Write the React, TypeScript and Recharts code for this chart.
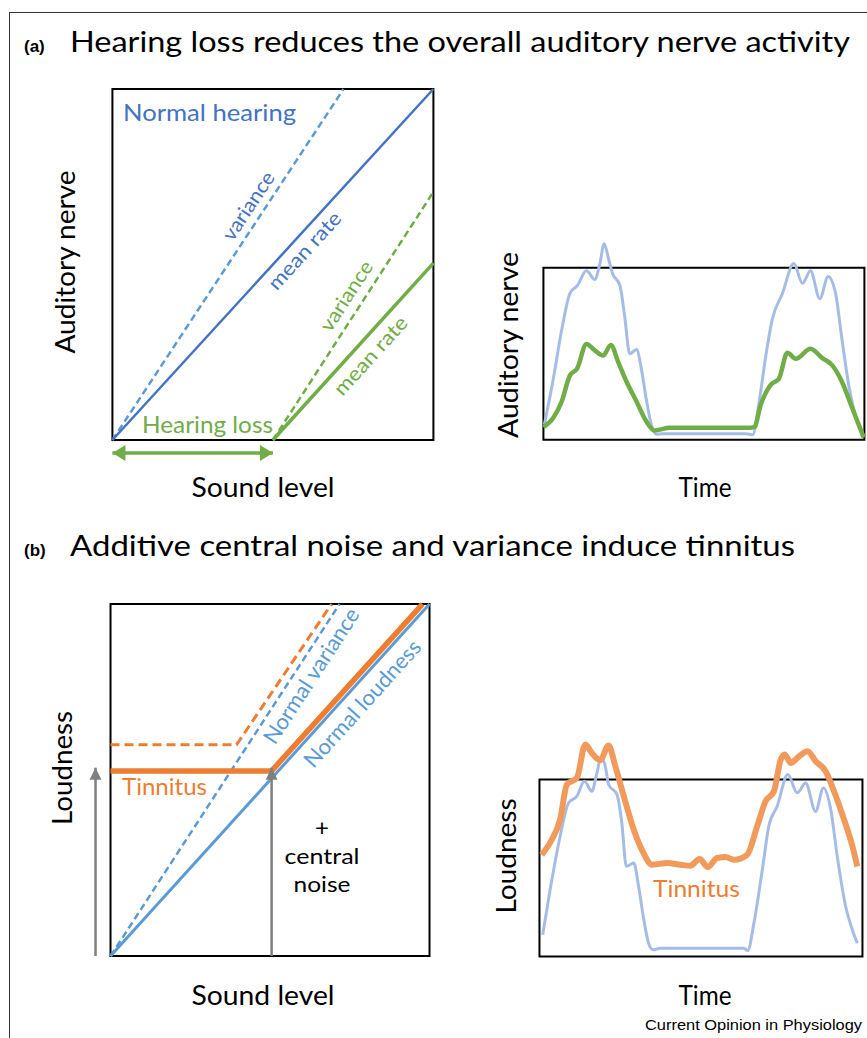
import React from "react";
import { LineChart, Line, XAxis, YAxis, ReferenceArea } from "recharts";

// (a) left: rate vs sound level (box is 0..100 on both axes)
const aNormalVariance = [{ x: 0, y: 0 }, { x: 72, y: 100 }];
const aNormalMean = [{ x: 0, y: 0 }, { x: 100, y: 100 }];
const aLossVariance = [{ x: 50, y: 0 }, { x: 100, y: 70.7 }];
const aLossMean = [{ x: 50, y: 0 }, { x: 100, y: 50.4 }];
const aLossRange = [{ x: 0, y: -3.7 }, { x: 50, y: -3.7 }];

// (a) right: nerve activity over time
const aNerveNormal = [
  { x: 0.3, y: 9 }, { x: 3.1, y: 35.7 }, { x: 5.7, y: 64 }, { x: 8.3, y: 85.3 }, { x: 10.5, y: 89.5 },
  { x: 13.4, y: 98.3 }, { x: 16, y: 93.3 }, { x: 17.6, y: 102.5 }, { x: 18.9, y: 114 }, { x: 20.2, y: 106 },
  { x: 21.5, y: 96.8 }, { x: 23.8, y: 90 }, { x: 25.3, y: 72 }, { x: 26.9, y: 50 }, { x: 29, y: 52.5 },
  { x: 30.5, y: 41.4 }, { x: 32, y: 24 }, { x: 33.6, y: 9 }, { x: 35.2, y: 3.2 }, { x: 37, y: 3.6 },
  { x: 63, y: 3.6 }, { x: 65.2, y: 2.9 }, { x: 67.2, y: 22 }, { x: 69.3, y: 49 }, { x: 71.3, y: 70 },
  { x: 74.5, y: 85.3 }, { x: 78, y: 102.5 }, { x: 80.7, y: 91 }, { x: 83.2, y: 98.3 }, { x: 86.1, y: 82 },
  { x: 88.7, y: 95 }, { x: 91, y: 85.3 }, { x: 93, y: 58.6 }, { x: 95.1, y: 32 }, { x: 97.7, y: 11 },
  { x: 99.8, y: 2.3 },
];
const aNerveLoss = [
  { x: 0, y: 7.4 }, { x: 3.1, y: 12.8 }, { x: 5.7, y: 22.3 }, { x: 8.3, y: 37.6 }, { x: 10.5, y: 41.4 },
  { x: 13.4, y: 55.7 }, { x: 16, y: 52 }, { x: 18.6, y: 49 }, { x: 21, y: 55.2 }, { x: 23.3, y: 45.2 },
  { x: 25.9, y: 33.8 }, { x: 29, y: 22.3 }, { x: 32, y: 10.9 }, { x: 34.6, y: 5.5 }, { x: 39.3, y: 7 },
  { x: 64.1, y: 7 }, { x: 65.7, y: 7.4 }, { x: 67.7, y: 20.4 }, { x: 70.8, y: 31.9 }, { x: 73.4, y: 35.7 },
  { x: 76, y: 50.6 }, { x: 78.6, y: 47.1 }, { x: 83.2, y: 52.9 }, { x: 86.9, y: 47.5 }, { x: 90, y: 43.3 },
  { x: 93, y: 33.8 }, { x: 96.2, y: 18.5 }, { x: 99.8, y: 1.3 },
];

// (b) left: loudness vs sound level
const bNormalVariance = [{ x: 0, y: 0 }, { x: 71.8, y: 100 }];
const bNormalLoudness = [{ x: 0, y: 0 }, { x: 100, y: 100 }];
const bTinnitusVariance = [{ x: 0, y: 60 }, { x: 39.5, y: 60 }, { x: 69.3, y: 100 }];
const bTinnitus = [{ x: 0, y: 52.6 }, { x: 50.5, y: 52.6 }, { x: 97.8, y: 100 }];
const bNoiseLeft = [{ x: -4.7, y: 0 }, { x: -4.7, y: 53.5 }];
const bNoiseMid = [{ x: 50.5, y: 0 }, { x: 50.5, y: 53.5 }];

// (b) right: loudness over time
const bLoudNormal = [
  { x: 1, y: 12.3 }, { x: 3.3, y: 37.7 }, { x: 6.4, y: 68 }, { x: 9, y: 86.8 }, { x: 11.6, y: 90.6 },
  { x: 13.9, y: 99 }, { x: 16.2, y: 93.4 }, { x: 17.8, y: 103.8 }, { x: 19.1, y: 112.8 }, { x: 20.4, y: 107.5 },
  { x: 21.4, y: 97.2 }, { x: 24, y: 91.5 }, { x: 25.5, y: 75.5 }, { x: 26.9, y: 51 }, { x: 29.2, y: 52.8 },
  { x: 30.7, y: 39.6 }, { x: 32.3, y: 20.8 }, { x: 33.8, y: 7.5 }, { x: 35.2, y: 3.8 }, { x: 37.4, y: 4.7 },
  { x: 63.3, y: 4.7 }, { x: 64.5, y: 3.4 }, { x: 66.4, y: 18.9 }, { x: 69, y: 49 }, { x: 71, y: 73.6 },
  { x: 73.6, y: 84.9 }, { x: 76.9, y: 102.8 }, { x: 79.8, y: 92.5 }, { x: 82.4, y: 98 }, { x: 85.5, y: 82 },
  { x: 87.9, y: 95.3 }, { x: 90.2, y: 83 }, { x: 92.2, y: 56.6 }, { x: 94.8, y: 28.3 }, { x: 96.9, y: 15 },
  { x: 98.4, y: 7.5 },
];
const bLoudTinnitus = [
  { x: 0.7, y: 57.5 }, { x: 3.8, y: 66 }, { x: 6.4, y: 77.4 }, { x: 8.5, y: 97.2 }, { x: 11.6, y: 101 },
  { x: 14.2, y: 119.8 }, { x: 16.2, y: 115 }, { x: 18.8, y: 111 }, { x: 21.4, y: 119.2 }, { x: 23.5, y: 107.5 },
  { x: 26.1, y: 90.6 }, { x: 29.2, y: 71.7 }, { x: 31.7, y: 60.4 }, { x: 34.9, y: 51.9 }, { x: 39.5, y: 52.8 },
  { x: 43.6, y: 51.9 }, { x: 46.7, y: 51.3 }, { x: 49.6, y: 55.1 }, { x: 52.1, y: 50.6 }, { x: 55, y: 55.7 },
  { x: 57.6, y: 56.2 }, { x: 60.2, y: 54.7 }, { x: 64.3, y: 57.5 }, { x: 67.4, y: 73.6 }, { x: 70, y: 87.7 },
  { x: 72.6, y: 93.4 }, { x: 74.7, y: 111.3 }, { x: 75.9, y: 114.2 }, { x: 77.8, y: 109.4 }, { x: 80.4, y: 113.2 },
  { x: 83, y: 116 }, { x: 85.5, y: 110.4 }, { x: 88.6, y: 104.7 }, { x: 91.2, y: 93.4 }, { x: 94.3, y: 77.4 },
  { x: 96.9, y: 62.3 }, { x: 98.4, y: 50.9 },
];

const BLUE = "#4472C4";
const LIGHTBLUE = "#5B9BD5";
const GREEN = "#70AD47";
const ORANGE = "#ED7D31";
const GRAY = "#7F7F7F";
const FONT = "Lato, 'Open Sans', sans-serif";

// arrowhead drawn on a line point; dirs[index] tells which way it points
const arrowDot = (color: string, dirs: (string | null)[], len = 12, half = 7) => (p: any) => {
  const d = dirs[p.index];
  const { cx, cy } = p;
  if (!d || cx == null || cy == null) return <g key={`n-${p.index}`} />;
  let pts = "";
  if (d === "left") pts = `${cx},${cy} ${cx + len},${cy - half} ${cx + len},${cy + half}`;
  if (d === "right") pts = `${cx},${cy} ${cx - len},${cy - half} ${cx - len},${cy + half}`;
  if (d === "up") pts = `${cx},${cy} ${cx - half},${cy + len} ${cx + half},${cy + len}`;
  return <polygon key={`a-${p.index}`} points={pts} fill={color} />;
};

type Box = { left: number; top: number; right: number; bottom: number };

const Panel = ({ box, xDom, yDom, children }: { box: Box; xDom: [number, number]; yDom: [number, number]; children: React.ReactNode }) => {
  const sx = (box.right - box.left) / 100;
  const sy = (box.bottom - box.top) / 100;
  const left = box.left + xDom[0] * sx;
  const width = (xDom[1] - xDom[0]) * sx;
  const top = box.top - (yDom[1] - 100) * sy;
  const height = (yDom[1] - yDom[0]) * sy;
  return (
    <div style={{ position: "absolute", left, top }}>
      <LineChart width={width} height={height} margin={{ top: 0, right: 0, bottom: 0, left: 0 }}>
        <XAxis type="number" dataKey="x" domain={xDom} hide allowDataOverflow />
        <YAxis type="number" dataKey="y" domain={yDom} hide allowDataOverflow />
        <ReferenceArea x1={0} x2={100} y1={0} y2={100} fill="none" stroke="#000" strokeWidth={2} ifOverflow="visible" />
        {children}
      </LineChart>
    </div>
  );
};

const lineBase = { dataKey: "y", dot: false, activeDot: false, isAnimationActive: false } as const;

const Rot = ({ cx, cy, angle, fill, size, len, children }: any) => (
  <text
    transform={`translate(${cx},${cy}) rotate(${-angle})`}
    textAnchor="middle"
    dominantBaseline="middle"
    fill={fill}
    fontSize={size}
    textLength={len}
    lengthAdjust="spacingAndGlyphs"
  >
    {children}
  </text>
);

const YLab = ({ bx, cy, len, children }: any) => (
  <text transform={`translate(${bx},${cy}) rotate(-90)`} textAnchor="middle" fontSize={26} textLength={len} lengthAdjust="spacingAndGlyphs" fill="#000">
    {children}
  </text>
);

export default function App() {
  return (
    <div style={{ position: "absolute", left: 0, top: 0, width: 867, height: 1038, background: "#fff", overflow: "hidden" }}>
      {/* outer frame */}
      <div style={{ position: "absolute", left: 9, top: 12, width: 880, height: 1100, borderLeft: "1.5px solid #333", borderTop: "1.5px solid #333" }} />

      <Panel box={{ left: 112, top: 89, right: 433, bottom: 440 }} xDom={[-2, 102]} yDom={[-7, 102]}>
        <Line {...lineBase} data={aNormalVariance} type="linear" stroke={LIGHTBLUE} strokeWidth={2.5} strokeDasharray="7 4" />
        <Line {...lineBase} data={aNormalMean} type="linear" stroke={BLUE} strokeWidth={2.5} />
        <Line {...lineBase} data={aLossVariance} type="linear" stroke={GREEN} strokeWidth={2.5} strokeDasharray="7 4" />
        <Line {...lineBase} data={aLossMean} type="linear" stroke={GREEN} strokeWidth={3.5} />
        <Line {...lineBase} data={aLossRange} type="linear" stroke={GREEN} strokeWidth={3.5} dot={arrowDot(GREEN, ["left", "right"], 13, 8)} />
      </Panel>

      <Panel box={{ left: 543, top: 268, right: 864, bottom: 440 }} xDom={[-2, 102]} yDom={[-3, 122]}>
        <Line {...lineBase} data={aNerveNormal} type="monotone" stroke="#A5BDE6" strokeWidth={3} />
        <Line {...lineBase} data={aNerveLoss} type="monotone" stroke={GREEN} strokeWidth={4.5} />
      </Panel>

      <Panel box={{ left: 111, top: 604, right: 430, bottom: 956 }} xDom={[-8, 102]} yDom={[-2, 102]}>
        <Line {...lineBase} data={bNormalVariance} type="linear" stroke={LIGHTBLUE} strokeWidth={2.5} strokeDasharray="7 4" />
        <Line {...lineBase} data={bNormalLoudness} type="linear" stroke={LIGHTBLUE} strokeWidth={3} />
        <Line {...lineBase} data={bTinnitusVariance} type="linear" stroke={ORANGE} strokeWidth={3} strokeDasharray="9 5" />
        <Line {...lineBase} data={bTinnitus} type="linear" stroke={ORANGE} strokeWidth={5.5} />
        <Line {...lineBase} data={bNoiseLeft} type="linear" stroke={GRAY} strokeWidth={2.5} dot={arrowDot(GRAY, [null, "up"], 12, 6)} />
        <Line {...lineBase} data={bNoiseMid} type="linear" stroke={GRAY} strokeWidth={2.5} dot={arrowDot(GRAY, [null, "up"], 12, 6)} />
      </Panel>

      <Panel box={{ left: 539, top: 780, right: 862, bottom: 957 }} xDom={[-2, 102]} yDom={[-3, 128]}>
        <Line {...lineBase} data={bLoudNormal} type="monotone" stroke="#A5BDE6" strokeWidth={3} />
        <Line {...lineBase} data={bLoudTinnitus} type="monotone" stroke="#F19A5C" strokeWidth={6} />
      </Panel>

      <svg width={867} height={1038} style={{ position: "absolute", left: 0, top: 0, pointerEvents: "none" }} fontFamily={FONT}>
        {/* titles */}
        <text x={24} y={52} fontFamily="'Liberation Sans', Arial, sans-serif" fontWeight="bold" fontSize={17}>(a)</text>
        <text x={70} y={52} fontSize={29} textLength={780} lengthAdjust="spacingAndGlyphs">Hearing loss reduces the overall auditory nerve activity</text>
        <text x={24} y={556} fontFamily="'Liberation Sans', Arial, sans-serif" fontWeight="bold" fontSize={17}>(b)</text>
        <text x={70} y={556} fontSize={29} textLength={725} lengthAdjust="spacingAndGlyphs">Additive central noise and variance induce tinnitus</text>

        {/* (a) left */}
        <YLab bx={75} cy={262} len={183}>Auditory nerve</YLab>
        <text x={123} y={121} fontSize={24} fill={BLUE} textLength={173} lengthAdjust="spacingAndGlyphs">Normal hearing</text>
        <Rot cx={250} cy={207} angle={56.6} fill={BLUE} size={20} len={78}>variance</Rot>
        <Rot cx={306} cy={252} angle={47.6} fill={BLUE} size={20} len={98}>mean rate</Rot>
        <Rot cx={348} cy={297} angle={57} fill={GREEN} size={20} len={80}>variance</Rot>
        <Rot cx={372} cy={357} angle={47.7} fill={GREEN} size={20} len={99}>mean rate</Rot>
        <text x={142} y={433} fontSize={24} fill={GREEN} textLength={131} lengthAdjust="spacingAndGlyphs">Hearing loss</text>
        <text x={263} y={497} fontSize={26} textAnchor="middle" textLength={143} lengthAdjust="spacingAndGlyphs">Sound level</text>

        {/* (a) right */}
        <YLab bx={518} cy={345} len={186}>Auditory nerve</YLab>
        <text x={705} y={497} fontSize={26} textAnchor="middle" textLength={53} lengthAdjust="spacingAndGlyphs">Time</text>

        {/* (b) left */}
        <YLab bx={72} cy={768} len={114}>Loudness</YLab>
        <text x={122} y={795} fontSize={24} fill={ORANGE} textLength={85} lengthAdjust="spacingAndGlyphs">Tinnitus</text>
        <Rot cx={313} cy={677} angle={57} fill={LIGHTBLUE} size={22} len={157}>Normal variance</Rot>
        <Rot cx={364} cy={705} angle={48} fill={LIGHTBLUE} size={22} len={163}>Normal loudness</Rot>
        <text x={322} y={836} fontSize={24} textAnchor="middle">+</text>
        <text x={322} y={864} fontSize={22} textAnchor="middle" textLength={75} lengthAdjust="spacingAndGlyphs">central</text>
        <text x={322} y={892} fontSize={22} textAnchor="middle" textLength={57} lengthAdjust="spacingAndGlyphs">noise</text>
        <text x={263} y={1005} fontSize={26} textAnchor="middle" textLength={143} lengthAdjust="spacingAndGlyphs">Sound level</text>

        {/* (b) right */}
        <YLab bx={516} cy={856} len={115}>Loudness</YLab>
        <text x={653} y={897} fontSize={24} fill={ORANGE} textLength={87} lengthAdjust="spacingAndGlyphs">Tinnitus</text>
        <text x={705} y={1005} fontSize={26} textAnchor="middle" textLength={53} lengthAdjust="spacingAndGlyphs">Time</text>

        <text x={862} y={1030} fontSize={15} textAnchor="end" fontFamily="'Liberation Sans Narrow', 'Liberation Sans', Arial, sans-serif" textLength={217} lengthAdjust="spacingAndGlyphs">Current Opinion in Physiology</text>
      </svg>
    </div>
  );
}
